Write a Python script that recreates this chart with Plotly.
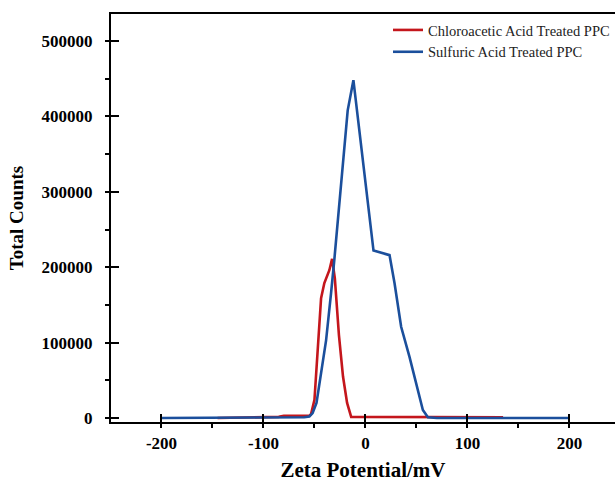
import plotly.graph_objects as go

# Chloroacetic Acid Treated PPC
red_x = [-145, -110, -85, -80, -55, -53.4, -50, -43.5, -40.3, -35.4, -32.7, -30, -26, -22, -18, -14, 20, 60, 135]
red_y = [0, 1000, 1500, 3000, 3000, 5000, 24000, 159000, 179000, 196000, 211000, 185000, 110000, 55000, 20000, 1500, 1500, 1500, 1000]

# Sulfuric Acid Treated PPC
blue_x = [-200, -150, -100, -60, -55, -51.8, -48, -45, -38.6, -33.7, -30.5, -17.4, -11.8, 7.9, 23.6, 28.5, 35, 43.2, 51.4, 56.3, 61.2, 70, 200]
blue_y = [0, 0, 500, 1000, 2000, 6600, 20000, 46000, 103000, 166000, 210000, 408000, 448000, 222000, 216000, 179000, 121000, 81000, 37000, 10600, 1000, 0, 0]

x_ticks = [-200, -100, 0, 100, 200]
y_ticks = [0, 100000, 200000, 300000, 400000, 500000]

FONT = "Liberation Serif"

fig = go.Figure()
fig.add_trace(go.Scatter(x=red_x, y=red_y, mode="lines", name="Chloroacetic Acid Treated PPC",
                         line=dict(color="#C4161C", width=2.6)))
fig.add_trace(go.Scatter(x=blue_x, y=blue_y, mode="lines", name="Sulfuric Acid Treated PPC",
                         line=dict(color="#1B4F9C", width=2.6)))

fig.update_layout(
    width=615, height=483,
    margin=dict(l=111, r=0, t=14, b=61),
    paper_bgcolor="white", plot_bgcolor="white",
    font=dict(family=FONT, color="black"),
    showlegend=True,
    legend=dict(x=1, xanchor="right", y=1, yanchor="top", bgcolor="rgba(0,0,0,0)",
                font=dict(family=FONT, size=14.5, color="#222"), tracegroupgap=0),
)
fig.update_xaxes(
    range=[-249.5, 244.7], tickvals=x_ticks, ticktext=[str(v) for v in x_ticks],
    showgrid=False, zeroline=False, showline=True, linecolor="black", linewidth=2, mirror=True,
    ticks="inside", ticklen=8, tickwidth=1.5, tickcolor="black",
    minor=dict(ticks="outside", ticklen=4, tickwidth=1.5, tickcolor="black", dtick=50, tick0=0, showgrid=False),
    tickfont=dict(family=FONT, size=17, weight="bold"), ticklabelstandoff=5,
    title=dict(text="Zeta Potential/mV", font=dict(family=FONT, size=21, weight="bold"), standoff=10),
)
fig.update_yaxes(
    range=[-5300, 535800], tickvals=y_ticks, ticktext=[str(v) for v in y_ticks],
    showgrid=False, zeroline=False, showline=True, linecolor="black", linewidth=2, mirror=False,
    ticks="inside", ticklen=8, tickwidth=1.5, tickcolor="black",
    minor=dict(ticks="outside", ticklen=4, tickwidth=1.5, tickcolor="black", dtick=50000, tick0=0, showgrid=False),
    tickfont=dict(family=FONT, size=17, weight="bold"), ticklabelstandoff=13,
    title=dict(text="Total Counts", font=dict(family=FONT, size=19, weight="bold"), standoff=13),
)

fig.write_html("out.html")
